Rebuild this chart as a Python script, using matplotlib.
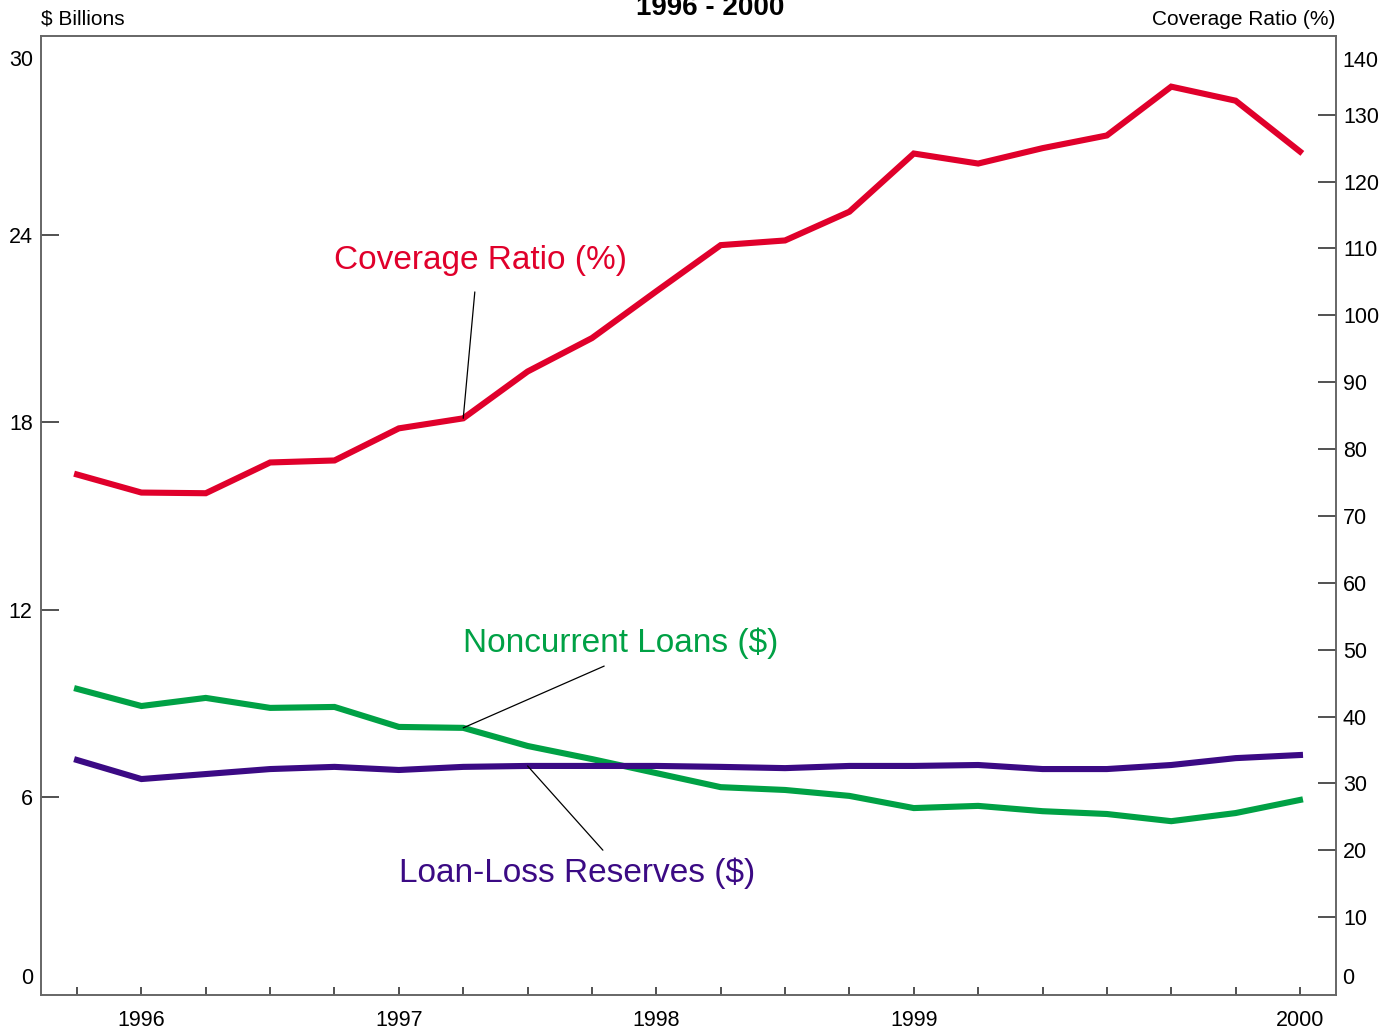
import matplotlib
matplotlib.use('Agg')
import matplotlib.pyplot as plt

plt.rcParams['font.family'] = ['Liberation Sans', 'DejaVu Sans']

# quarterly observations, end of 1995 .. end of 2000 (left axis in $ billions, right axis in %)
quarters = list(range(20))
tick_labels = ['', '1996', '', '', '', '1997', '', '', '', '1998', '', '', '', '1999', '', '', '', '', '', '2000']
year_end_ticks = [3, 7, 11, 15, 19]

coverage_ratio = [76.2, 73.5, 73.4, 78.0, 78.3, 83.1, 84.6, 91.6, 96.6, 103.6,
                  110.5, 111.2, 115.5, 124.2, 122.7, 125.0, 126.9, 134.2, 132.1, 124.5]
noncurrent_loans = [9.46, 8.91, 9.17, 8.85, 8.88, 8.24, 8.21, 7.63, 7.21, 6.76,
                    6.31, 6.22, 6.03, 5.64, 5.71, 5.54, 5.45, 5.22, 5.48, 5.90]
loan_loss_reserves = [7.18, 6.57, 6.73, 6.89, 6.96, 6.86, 6.96, 6.99, 6.99, 6.99,
                      6.96, 6.92, 6.99, 6.99, 7.02, 6.89, 6.89, 7.02, 7.24, 7.34]

RED = '#e0002b'
GREEN = '#00a145'
PURPLE = '#3b0a84'
SPINE = '#666666'
TICK_FS = 15.5

fig = plt.figure(figsize=(13.92, 10.34), dpi=100)
ax = fig.add_axes([41 / 1392, 39 / 1034, 1295 / 1392, 959 / 1034])
ax2 = ax.twinx()

left_lim = (-0.35, 30.38)
ax.set_ylim(*left_lim)
ax2.set_ylim(left_lim[0] * 140 / 30, left_lim[1] * 140 / 30)
ax.set_xlim(-0.56, 19.56)

ax.plot(quarters, noncurrent_loans, color=GREEN, lw=4.4, solid_joinstyle='miter', zorder=3)
ax.plot(quarters, loan_loss_reserves, color=PURPLE, lw=4.4, solid_joinstyle='miter', zorder=3)
ax2.plot(quarters, coverage_ratio, color=RED, lw=4.4, solid_joinstyle='miter', zorder=3)

# frame
for a in (ax, ax2):
    for s in a.spines.values():
        s.set_color(SPINE)
        s.set_linewidth(1.2)

# left axis ticks
ax.set_yticks([6, 12, 18, 24])
ax.tick_params(axis='y', direction='in', length=13, width=1.2, color='#333333',
               labelsize=TICK_FS, pad=6)
ax.text(-0.006, 29.58, '30', transform=ax.get_yaxis_transform(), ha='right', va='center', fontsize=TICK_FS)
ax.text(-0.006, 0.19, '0', transform=ax.get_yaxis_transform(), ha='right', va='center', fontsize=TICK_FS)

# right axis ticks
ax2.set_yticks(list(range(10, 140, 10)))
ax2.tick_params(axis='y', direction='in', length=13, width=1.2, color='#333333',
                labelsize=TICK_FS, pad=5)
ax2.text(1.005, 138.0, '140', transform=ax2.get_yaxis_transform(), ha='left', va='center', fontsize=TICK_FS)
ax2.text(1.005, 0.9, '0', transform=ax2.get_yaxis_transform(), ha='left', va='center', fontsize=TICK_FS)

# x axis ticks
ax.set_xticks(quarters)
ax.set_xticklabels(tick_labels)
ax.set_xticks(year_end_ticks, minor=True)
ax.tick_params(axis='x', which='major', direction='in', length=6, width=1.2, color='#333333',
               labelsize=TICK_FS, pad=11)
ax.tick_params(axis='x', which='minor', direction='in', length=12, width=1.2, color='#333333')

# series labels with leader lines
ax2.annotate('', xy=(6, coverage_ratio[6]), xytext=(6.18, 103.5),
             arrowprops=dict(arrowstyle='-', color='black', lw=0.9, shrinkA=0, shrinkB=0))
ax.text(3.99, 23.2, 'Coverage Ratio (%)', color=RED, fontsize=24, ha='left', va='center')

ax.annotate('', xy=(6, noncurrent_loans[6]), xytext=(8.19, 10.19),
            arrowprops=dict(arrowstyle='-', color='black', lw=0.9, shrinkA=0, shrinkB=0))
ax.text(6.0, 10.93, 'Noncurrent Loans ($)', color=GREEN, fontsize=24, ha='left', va='center')

ax.annotate('', xy=(7, loan_loss_reserves[7]), xytext=(8.17, 4.29),
            arrowprops=dict(arrowstyle='-', color='black', lw=0.9, shrinkA=0, shrinkB=0))
ax.text(5.0, 3.55, 'Loan-Loss Reserves ($)', color=PURPLE, fontsize=24, ha='left', va='center')

# headings
fig.text(710 / 1392, 1 - 15 / 1034, '1996 - 2000', ha='center', va='baseline',
         fontsize=20, fontweight='bold')
fig.text(41 / 1392, 1 - 25 / 1034, '$ Billions', ha='left', va='baseline', fontsize=15)
fig.text(1335 / 1392, 1 - 25 / 1034, 'Coverage Ratio (%)', ha='right', va='baseline', fontsize=15)

fig.savefig('out.png', dpi=100)
